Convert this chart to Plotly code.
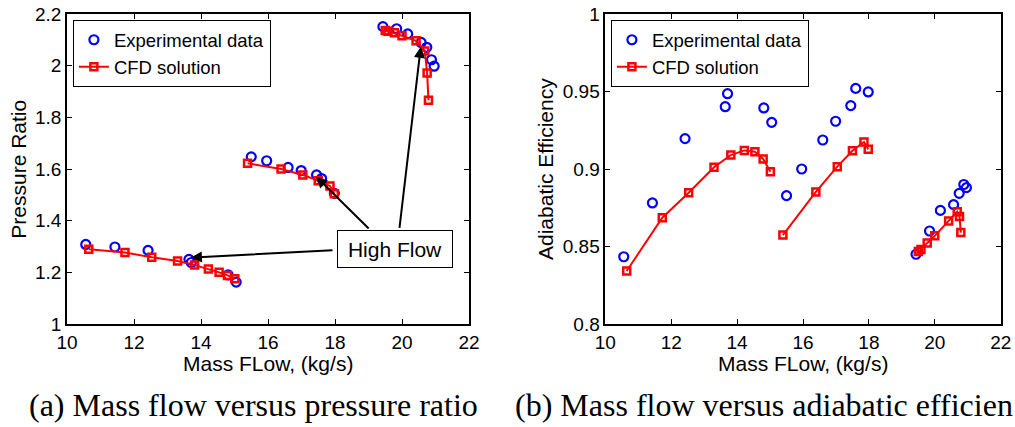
import plotly.graph_objects as go

# ---------------- data ----------------
exp_flow_low = [10.56, 11.43, 12.42, 13.64, 13.71, 14.81, 15.05]
exp_flow_mid = [15.50, 15.96, 16.60, 16.99, 17.45, 17.60, 17.98]
exp_flow_high = [19.43, 19.84, 20.17, 20.57, 20.74, 20.88, 20.96]

exp_pr_low = [1.308, 1.298, 1.285, 1.250, 1.238, 1.190, 1.162]
exp_pr_mid = [1.647, 1.632, 1.606, 1.594, 1.577, 1.563, 1.506]
exp_pr_high = [2.151, 2.143, 2.123, 2.090, 2.071, 2.023, 1.998]

exp_eff_low = [0.8434, 0.8781, 0.9196, 0.9402, 0.9486, 0.9394, 0.9301]
exp_eff_mid = [0.8828, 0.9000, 0.9187, 0.9308, 0.9409, 0.9520, 0.9497]
exp_eff_high = [0.8450, 0.8600, 0.8733, 0.8770, 0.8843, 0.8900, 0.8880]

cfd_flow_low = [10.65, 11.73, 12.53, 13.30, 13.81, 14.22, 14.54, 14.79, 15.01]
cfd_flow_mid = [15.39, 16.39, 17.04, 17.50, 17.85, 17.98]
cfd_flow_high = [19.50, 19.58, 19.77, 20.00, 20.42, 20.68, 20.75, 20.79]

cfd_pr_low = [1.289, 1.277, 1.258, 1.244, 1.228, 1.213, 1.200, 1.188, 1.175]
cfd_pr_mid = [1.622, 1.600, 1.577, 1.555, 1.534, 1.504]
cfd_pr_high = [2.136, 2.133, 2.127, 2.116, 2.096, 2.057, 1.972, 1.866]

cfd_eff_low = [0.8342, 0.8686, 0.8847, 0.9011, 0.9090, 0.9120, 0.9112, 0.9065, 0.8983]
cfd_eff_mid = [0.8574, 0.8852, 0.9015, 0.9118, 0.9174, 0.9127]
cfd_eff_high = [0.8467, 0.8480, 0.8523, 0.8569, 0.8665, 0.8724, 0.8694, 0.8590]

x_ticks = [10, 12, 14, 16, 18, 20, 22]
pr_ticks = [1, 1.2, 1.4, 1.6, 1.8, 2, 2.2]
eff_ticks = [0.8, 0.85, 0.9, 0.95, 1]

arrow_heads = [(13.70, 1.257), (17.44, 1.570), (20.56, 2.073)]
arrow_tails = [(17.97, 1.286), (19.05, 1.364), (19.92, 1.366)]
label_pos = (19.78, 1.290)


def join(*groups):
    out = []
    for i, g in enumerate(groups):
        if i:
            out.append(None)
        out.extend(g)
    return out


SANS = "Liberation Sans, Arial, Helvetica, sans-serif"
SERIF = "Liberation Serif, Times New Roman, serif"
BLUE = "#0000ff"
RED = "#ff0000"

fig = go.Figure()

circle = dict(symbol="circle-open", size=9, color=BLUE, line=dict(width=2.2, color=BLUE))
square = dict(symbol="square-open", size=7, color=RED, line=dict(width=2.5, color=RED))

fig.add_trace(go.Scatter(
    x=exp_flow_low + exp_flow_mid + exp_flow_high,
    y=exp_pr_low + exp_pr_mid + exp_pr_high,
    mode="markers", marker=circle, name="Experimental data",
    xaxis="x", yaxis="y", legend="legend"))
fig.add_trace(go.Scatter(
    x=join(cfd_flow_low, cfd_flow_mid, cfd_flow_high),
    y=join(cfd_pr_low, cfd_pr_mid, cfd_pr_high),
    mode="lines+markers", marker=square, line=dict(color=RED, width=2),
    name="CFD solution", connectgaps=False,
    xaxis="x", yaxis="y", legend="legend"))
fig.add_trace(go.Scatter(
    x=exp_flow_low + exp_flow_mid + exp_flow_high,
    y=exp_eff_low + exp_eff_mid + exp_eff_high,
    mode="markers", marker=circle, name="Experimental data",
    xaxis="x2", yaxis="y2", legend="legend2"))
fig.add_trace(go.Scatter(
    x=join(cfd_flow_low, cfd_flow_mid, cfd_flow_high),
    y=join(cfd_eff_low, cfd_eff_mid, cfd_eff_high),
    mode="lines+markers", marker=square, line=dict(color=RED, width=2),
    name="CFD solution", connectgaps=False,
    xaxis="x2", yaxis="y2", legend="legend2"))

W, H = 1015, 427
ydom = [1 - 324 / H, 1 - 14 / H]

axis_common = dict(
    showgrid=False, zeroline=False, showline=True, linecolor="black",
    linewidth=1.5, mirror="ticks", ticks="inside", ticklen=5, tickwidth=1,
    tickcolor="black", tickfont=dict(family=SANS, size=19, color="black"),
    automargin=False,
)

annotations = []
for (hx, hy), (tx, ty) in zip(arrow_heads, arrow_tails):
    annotations.append(dict(
        x=hx, y=hy, ax=tx, ay=ty, xref="x", yref="y", axref="x", ayref="y",
        text="", showarrow=True, arrowhead=2, arrowsize=1.1, arrowwidth=2,
        arrowcolor="black", standoff=0, startstandoff=0))
annotations.append(dict(
    x=label_pos[0], y=label_pos[1], xref="x", yref="y", text="High Flow",
    showarrow=False, font=dict(family=SANS, size=21, color="black"),
    bgcolor="white", bordercolor="black", borderwidth=1, borderpad=4,
    width=106, height=28, xanchor="center", yanchor="middle"))


def label(x_px, y_px, text, font, angle=0, xanchor="center"):
    return dict(x=x_px / W, y=1 - y_px / H, xref="paper", yref="paper",
                xanchor=xanchor, yanchor="middle", text=text, textangle=angle,
                showarrow=False, font=font)


axis_font = dict(family=SANS, size=21, color="black")
cap_font = dict(family=SERIF, size=32, color="black")

annotations += [
    label(17.7, 169, "Pressure Ratio", axis_font, angle=-90),
    label(268, 363, "Mass FLow, (kg/s)", axis_font),
    label(545, 169, "Adiabatic Efficiency", axis_font, angle=-90),
    label(803, 363, "Mass FLow, (kg/s)", axis_font),
    label(253.5, 405, "(a) Mass flow versus pressure ratio", cap_font),
    label(W, 405, "(b) Mass flow versus adiabatic efficien", cap_font, xanchor="right"),
]

legend_common = dict(
    bgcolor="white", bordercolor="black", borderwidth=1.2,
    font=dict(family=SANS, size=18.5, color="black"),
    xanchor="left", yanchor="top", tracegroupgap=0, itemsizing="trace",
)

fig.update_layout(
    width=W, height=H, margin=dict(l=0, r=0, t=0, b=0, pad=0, autoexpand=False),
    paper_bgcolor="white", plot_bgcolor="white",
    xaxis=dict(domain=[67 / W, 469 / W], range=[10, 22], tickvals=x_ticks,
               anchor="y", **axis_common),
    yaxis=dict(domain=ydom, range=[1, 2.2], tickvals=pr_ticks, anchor="x",
               **axis_common),
    xaxis2=dict(domain=[605.3 / W, 1000.7 / W], range=[10, 22], tickvals=x_ticks,
                anchor="y2", **axis_common),
    yaxis2=dict(domain=ydom, range=[0.8, 1], tickvals=eff_ticks, anchor="x2",
                **axis_common),
    legend=dict(x=72.7 / W, y=1 - 20 / H, **legend_common),
    legend2=dict(x=610.7 / W, y=1 - 20 / H, **legend_common),
    annotations=annotations,
    showlegend=True,
)

post = (
    "var st=document.createElement('style');"
    "st.textContent='html,body{margin:0!important;padding:0!important;}';"
    "document.head.appendChild(st);"
)

fig.write_html("out.html", config={"displayModeBar": False, "responsive": False},
               post_script=post)
